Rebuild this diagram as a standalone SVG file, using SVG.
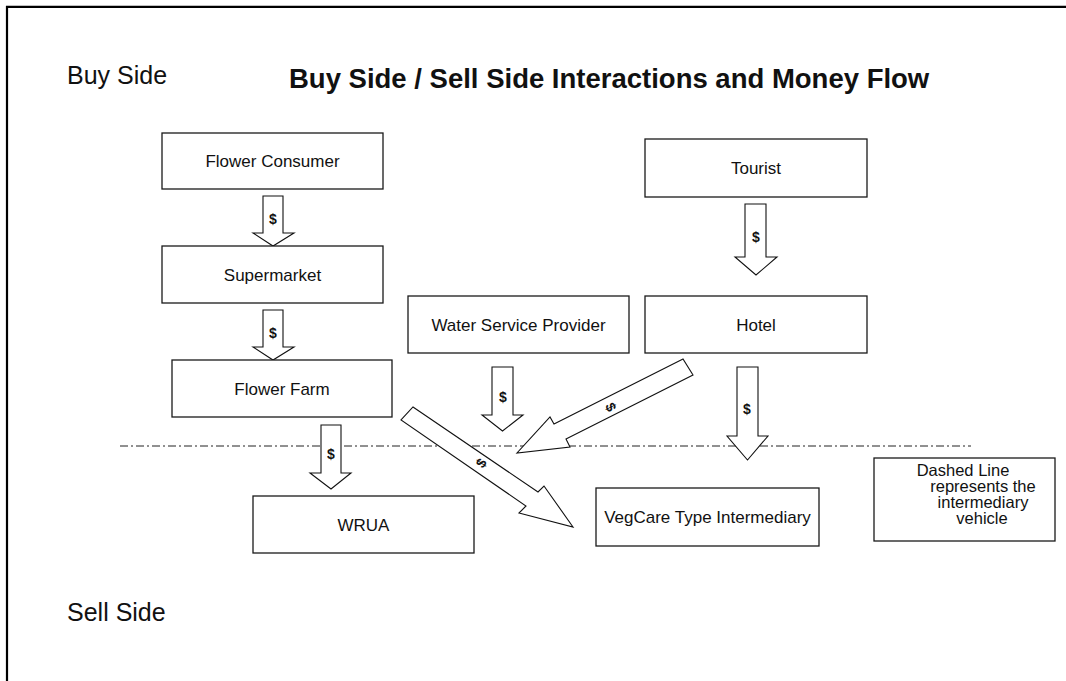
<svg xmlns="http://www.w3.org/2000/svg" width="1066" height="681" viewBox="0 0 1066 681">
<style>
.bg{fill:#ffffff}
.frame{fill:none;stroke:#000;stroke-width:2.2}
.box{fill:#fff;stroke:#1a1a1a;stroke-width:1.3}
.lbl{font-family:"Liberation Sans",Arial,sans-serif;font-size:17px;fill:#111;text-anchor:middle}
.note{font-family:"Liberation Sans",Arial,sans-serif;font-size:16.5px;fill:#111;text-anchor:middle}
.side{font-family:"Liberation Sans",Arial,sans-serif;font-size:25px;fill:#111}
.title{font-family:"Liberation Sans",Arial,sans-serif;font-size:27.5px;font-weight:bold;fill:#111}
.arr{fill:#fff;stroke:#111;stroke-width:1.1;stroke-linejoin:miter}
.dol{font-family:"Liberation Sans",Arial,sans-serif;font-size:14px;font-weight:bold;fill:#111;text-anchor:middle}
.dash{stroke:#222;stroke-width:1;stroke-dasharray:8 3 2 3;fill:none}
</style>
<rect class="bg" x="0" y="0" width="1066" height="681"/>
<path class="frame" d="M7,681 V6.8 H1066"/>

<text class="title" x="289" y="88">Buy Side / Sell Side Interactions and Money Flow</text>
<text class="side" x="67" y="84">Buy Side</text>
<text class="side" x="67" y="621">Sell Side</text>

<g id="connectors">
  <line id="intermediary-line" class="dash" x1="120" y1="446" x2="971" y2="446"/>
  <g id="arrow-consumer-supermarket">
    <polygon class="arr" points="263,196 283,196 283,233 294,233 273,246 253,233 263,233"/>
    <text class="dol" x="273" y="224">$</text>
  </g>
  <g id="arrow-supermarket-farm">
    <polygon class="arr" points="263,310 283,310 283,347 294,347 273,360 253,347 263,347"/>
    <text class="dol" x="273" y="338">$</text>
  </g>
  <g id="arrow-farm-wrua">
    <polygon class="arr" points="321,425 341,425 341,473 351,473 331,489 310,473 321,473"/>
    <text class="dol" x="331" y="459">$</text>
  </g>
  <g id="arrow-wsp">
    <polygon class="arr" points="492,367 513,367 513,415 523,415 502.5,431 482,415 492,415"/>
    <text class="dol" x="503" y="402">$</text>
  </g>
  <g id="arrow-tourist-hotel">
    <polygon class="arr" points="745,204 766,204 766,257 777,257 756,275 735,257 745,257"/>
    <text class="dol" x="756" y="242">$</text>
  </g>
  <g id="arrow-hotel-down">
    <polygon class="arr" points="737,367 758,367 758,436 768,436 747.5,460 727,436 737,436"/>
    <text class="dol" x="747" y="414">$</text>
  </g>
  <g id="arrow-farm-vegcare">
    <polygon class="arr" points="413,407 538,492 544,486 573,527 519,513 526,506 401,420"/>
    <text class="dol" x="481" y="463" dy="5" transform="rotate(-55.6 481 463)">$</text>
  </g>
  <g id="arrow-hotel-center">
    <polygon class="arr" points="683,359 554,424 550,417 517,453 570,447 566,439 693,375"/>
    <text class="dol" x="611" y="407" dy="5" transform="rotate(63.3 611 407)">$</text>
  </g>
</g>

<g id="flower-consumer">
  <rect class="box" x="162" y="133" width="221" height="56"/>
  <text class="lbl" x="272.5" y="167">Flower Consumer</text>
</g>
<g id="supermarket">
  <rect class="box" x="162" y="246" width="221" height="57"/>
  <text class="lbl" x="272.5" y="281">Supermarket</text>
</g>
<g id="flower-farm">
  <rect class="box" x="172" y="360" width="220" height="57"/>
  <text class="lbl" x="282" y="395">Flower Farm</text>
</g>
<g id="water-service-provider">
  <rect class="box" x="408" y="296" width="221" height="57"/>
  <text class="lbl" x="518.5" y="331">Water Service Provider</text>
</g>
<g id="tourist">
  <rect class="box" x="645" y="139" width="222" height="58"/>
  <text class="lbl" x="756" y="174">Tourist</text>
</g>
<g id="hotel">
  <rect class="box" x="645" y="296" width="222" height="57"/>
  <text class="lbl" x="756" y="331">Hotel</text>
</g>
<g id="wrua">
  <rect class="box" x="253" y="496" width="221" height="57"/>
  <text class="lbl" x="363.5" y="531">WRUA</text>
</g>
<g id="vegcare">
  <rect class="box" x="596" y="488" width="223" height="58"/>
  <text class="lbl" x="707.5" y="523">VegCare Type Intermediary</text>
</g>
<g id="note">
  <rect class="box" x="874" y="458" width="181" height="83"/>
  <text class="note" x="963" y="476">Dashed Line</text>
  <text class="note" x="983" y="492">represents the</text>
  <text class="note" x="983" y="508">intermediary</text>
  <text class="note" x="982" y="524">vehicle</text>
</g>
</svg>
